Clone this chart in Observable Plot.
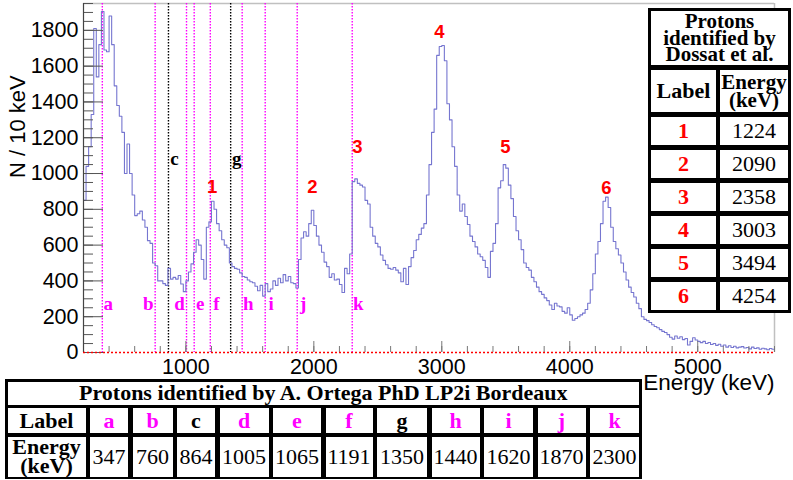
<!DOCTYPE html>
<html><head><meta charset="utf-8">
<script src="https://cdn.jsdelivr.net/npm/d3@7"></script>
<script src="https://cdn.jsdelivr.net/npm/@observablehq/plot@0.6"></script>
<style>
body{margin:0;background:#fff;}
#wrap{position:relative;width:793px;height:480px;overflow:hidden;background:#fff;}
#wrap svg{position:absolute;left:0;top:0;display:block;}
.tbl{position:absolute;background:#000;display:grid;box-sizing:content-box;font-family:"Liberation Serif","Times New Roman",serif;}
.tbl div{background:#fff;display:flex;align-items:center;justify-content:center;text-align:center;font-size:22px;line-height:1;color:#000;}
.tbl div.b{font-weight:bold;}
</style></head><body><div id="wrap"></div>
<script>
// ---- histogram: counts per 10 keV, sampled in 20 keV bins starting at 200 keV ----
const binStart = 200;
const binWidth = 20;
const counts = [
  850,1040,1150,1330,1810,1540,1720,1905,1690,1680,
  1880,1720,1490,1380,1320,1230,1000,1165,1000,880,
  765,775,790,740,700,625,610,500,485,400,
  400,385,375,470,410,420,410,430,383,340,
  400,450,495,560,630,600,520,410,700,730,
  845,800,720,680,630,600,585,500,480,470,
  465,445,425,420,405,395,390,370,345,375,
  315,385,340,355,400,375,415,390,435,400,
  425,390,385,360,520,640,675,650,720,795,
  710,650,600,560,505,480,420,440,405,410,
  380,335,470,440,550,955,970,945,935,925,
  850,830,700,650,610,590,545,515,490,470,
  465,475,460,445,395,470,380,480,530,570,
  630,660,695,720,880,1050,1230,1360,1660,1710,
  1715,1630,1390,1300,1150,1040,880,790,830,760,
  715,650,620,590,550,535,515,475,420,565,
  610,720,920,960,1050,1030,935,860,760,680,
  630,575,500,475,460,420,395,365,340,325,
  305,290,265,240,275,260,255,230,220,250,
  210,180,190,200,210,220,240,275,350,440,
  550,620,720,845,868,810,700,620,580,545,
  500,450,405,365,335,310,275,245,200,185,
  178,168,155,145,138,128,118,112,100,85,
  75,92,80,88,72,78,42,62,82,70,
  62,55,62,50,56,45,50,40,46,35,
  42,30,38,28,35,26,30,33,25,28,
  20,30,22,26,18,24,20,15,22,18
];

// ---- Ortega lines ----
const ortegaLabels = ["a","b","c","d","e","f","g","h","i","j","k"];
const ortegaEnergies = [347,760,864,1005,1065,1191,1350,1440,1620,1870,2300];
const ortegaTagLevel = [274,274,1083,274,274,274,1083,274,274,274,274];

// ---- Dossat peaks ----
const dossatLabels = ["1","2","3","4","5","6"];
const dossatEnergies = [1224,2090,2358,3003,3494,4254];
const peakTagEnergy = [1206,1988,2340,2981,3497,4287];
const peakTagCount = [927,924,1148,1790,1148,919];

// ---- axes ----
const xDomain = [200, 5600];
const yDomain = [0, 1950];
const xMajor = [1000,2000,3000,4000,5000];
const xMinor = d3.range(200, 5601, 200);
const yMajor = d3.range(0, 1801, 200);
const yMinor = d3.range(0, 1951, 50);

const blackSet = new Set(["c","g"]);
const magenta = "#ff00ff";
const colorOf = l => blackSet.has(l) ? "#000" : magenta;
const leftSet = new Set(["b","d"]);

const hist = counts.map((n, i) => ({e: binStart + i * binWidth, n}));
hist.push({e: binStart + counts.length * binWidth, n: counts[counts.length - 1]});

const W = 793, H = 480, mL = 83, mR = 19, mT = 3, mB = 128;
const fw = W - mL - mR, fh = H - mT - mB;
const idx = ortegaLabels.map((d, i) => i);
const serif = "'Liberation Serif', 'Times New Roman', serif";

const chart = Plot.plot({
  width: W, height: H,
  marginLeft: mL, marginRight: mR, marginTop: mT, marginBottom: mB,
  x: {domain: xDomain},
  y: {domain: yDomain},
  style: {fontFamily: "'Liberation Sans', Arial, sans-serif", fontSize: "22px", color: "#000", background: "#fff", overflow: "visible"},
  marks: [
    Plot.ruleY([yDomain[1]], {stroke: "#c0c0c0", strokeWidth: 1.5}),
    Plot.ruleX([xDomain[1]], {stroke: "#c0c0c0", strokeWidth: 1.5}),
    Plot.ruleX(idx, {x: i => ortegaEnergies[i], stroke: i => colorOf(ortegaLabels[i]), strokeDasharray: "1.5,1.5", strokeWidth: 1.4}),
    Plot.line(hist, {x: "e", y: "n", curve: "step-after", stroke: "#7676d0", strokeWidth: 1.1}),
    // inward ticks
    Plot.ruleY(yMajor, {y: d => d, insetRight: fw - 20, stroke: "#555"}),
    Plot.ruleY(yMinor, {y: d => d, insetRight: fw - 10, stroke: "#555"}),
    Plot.ruleX(xMinor, {x: d => d, insetTop: fh - 6, stroke: "#777"}),
    Plot.ruleX(xMajor, {x: d => d, insetTop: fh - 11, stroke: "#777"}),
    Plot.ruleX([xDomain[0]], {stroke: "#444", strokeWidth: 1.2}),
    Plot.ruleY([0], {stroke: "#ff0000", strokeDasharray: "2,2", strokeWidth: 1.4}),
    Plot.axisY({ticks: yMajor, tickSize: 0, tickPadding: 5, label: null, tickFormat: d => String(d), fontSize: 21.5}),
    Plot.axisX({ticks: xMajor, tickSize: 0, tickPadding: 6, label: null, tickFormat: d => String(d), fontSize: 21.5}),
    Plot.text(["N / 10 keV"], {frameAnchor: "left", dx: -66, rotate: -90, text: d => d, fontSize: 22}),
    Plot.text(["Energy (keV)"], {frameAnchor: "bottom-right", dy: 37, textAnchor: "end", text: d => d, fontSize: 22.5}),
    Plot.text(idx.filter(i => !leftSet.has(ortegaLabels[i])), {
      x: i => ortegaEnergies[i], y: i => ortegaTagLevel[i], text: i => ortegaLabels[i],
      fill: i => colorOf(ortegaLabels[i]), dx: 6, fontFamily: serif, fontWeight: "bold", fontSize: 19}),
    Plot.text(idx.filter(i => leftSet.has(ortegaLabels[i])), {
      x: i => ortegaEnergies[i], y: i => ortegaTagLevel[i], text: i => ortegaLabels[i],
      fill: i => colorOf(ortegaLabels[i]), dx: -7, fontFamily: serif, fontWeight: "bold", fontSize: 19}),
    Plot.text(dossatLabels, {x: (d, i) => peakTagEnergy[i], y: (d, i) => peakTagCount[i], text: d => d,
      fill: "#ff0000", fontWeight: "bold", fontSize: 18.5})
  ]
});

const wrap = document.getElementById("wrap");
wrap.append(chart);

function cell(parent, html, opts = {}) {
  const c = document.createElement("div");
  c.innerHTML = html;
  if (opts.bold) c.className = "b";
  if (opts.color) c.style.color = opts.color;
  if (opts.span) c.style.gridColumn = opts.span;
  if (opts.lh) c.style.lineHeight = opts.lh;
  if (opts.fs) c.style.fontSize = opts.fs;
  parent.append(c);
  return c;
}

// right table (Dossat)
const rt = document.createElement("div");
rt.className = "tbl";
Object.assign(rt.style, {left: "648px", top: "8px", padding: "3px", gridTemplateColumns: "65px 68px",
  gridTemplateRows: "54px 42px repeat(6, 28px)", columnGap: "4px", rowGap: "5px"});
cell(rt, "Protons<br>identified by<br>Dossat et al.", {bold: true, span: "1 / 3", lh: "16.5px", fs: "21px"});
cell(rt, "Label", {bold: true});
cell(rt, "Energy<br>(keV)", {bold: true, lh: "18.5px", fs: "21px"});
dossatLabels.forEach((l, i) => {
  cell(rt, l, {bold: true, color: "#ff0000"});
  cell(rt, String(dossatEnergies[i]));
});
wrap.append(rt);

// bottom table (Ortega)
const bt = document.createElement("div");
bt.className = "tbl";
Object.assign(bt.style, {left: "5px", top: "379px", padding: "2.5px",
  gridTemplateColumns: "78px 38px 40px 38px 49px 48px 47px 50px 48px 49px 48px 49px",
  gridTemplateRows: "23px 25px 40px", columnGap: "4.5px", rowGap: "3.5px"});
cell(bt, "Protons identified by A. Ortega PhD LP2i Bordeaux", {bold: true, span: "1 / 13"});
cell(bt, "Label", {bold: true});
ortegaLabels.forEach(l => cell(bt, l, {bold: true, color: colorOf(l)}));
cell(bt, "Energy<br>(keV)", {bold: true, lh: "18.5px"});
ortegaEnergies.forEach(e => cell(bt, String(e)));
wrap.append(bt);
</script></body></html>
